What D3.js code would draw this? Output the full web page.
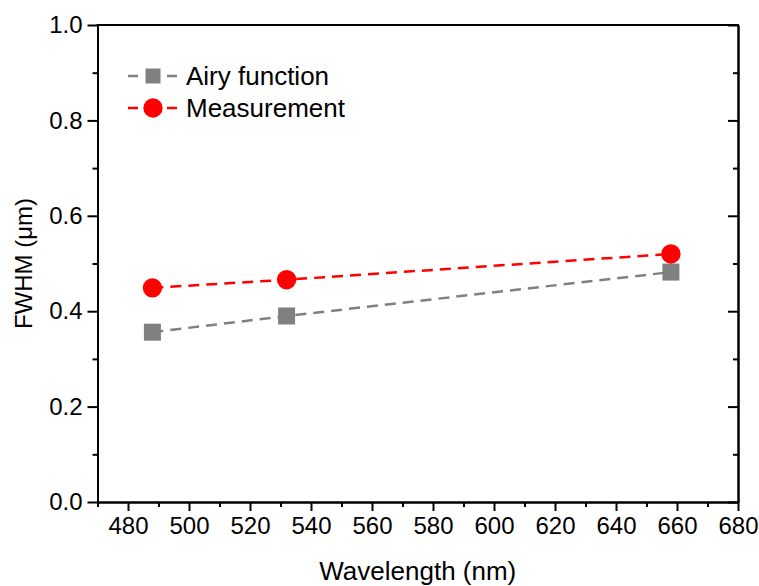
<!DOCTYPE html>
<html>
<head>
<meta charset="utf-8">
<script src="https://cdn.jsdelivr.net/npm/d3@7"></script>
<style>
  body { margin: 0; background: #fff; }
  svg { display: block; font-family: "Liberation Sans", Arial, sans-serif; }
</style>
</head>
<body>
<svg id="chart" width="759" height="586"></svg>
<script>
// values
var wavelengths = [488, 532, 658];
var airyFwhm = [0.356, 0.390, 0.482];
var measuredFwhm = [0.449, 0.466, 0.520];
var xTicks = [480, 500, 520, 540, 560, 580, 600, 620, 640, 660, 680];
var xMinor = [470, 490, 510, 530, 550, 570, 590, 610, 630, 650, 670];
var yTicks = [0, 0.2, 0.4, 0.6, 0.8, 1.0];
var yMinor = [0.1, 0.3, 0.5, 0.7, 0.9];
var seriesNames = ["Airy function", "Measurement"];

var svg = d3.select("#chart");
var plotL = 97.5, plotR = 738, plotT = 25, plotB = 502;

var x = d3.scaleLinear().domain([470, 680]).range([plotL, plotR]);
var y = d3.scaleLinear().domain([0, 1]).range([plotB, plotT]);

function styleAxis(g){
    g.selectAll("path.domain").attr("stroke", "#000").attr("stroke-width", 2);
    g.selectAll(".tick line").attr("stroke", "#000").attr("stroke-width", 2);
    g.selectAll(".tick text").attr("fill", "#000").style("font-size", "24px");
}

// bottom axis
svg.append("g").attr("transform", "translate(0," + plotB + ")")
    .call(d3.axisBottom(x).tickValues(xTicks).tickSize(9).tickPadding(6).tickFormat(d3.format("d")).tickSizeOuter(0))
    .call(styleAxis);
svg.append("g").attr("transform", "translate(0," + plotB + ")")
    .call(d3.axisBottom(x).tickValues(xMinor).tickSize(5).tickFormat("").tickSizeOuter(0))
    .call(styleAxis);

// left axis
svg.append("g").attr("transform", "translate(" + plotL + ",0)")
    .call(d3.axisLeft(y).tickValues(yTicks).tickSize(10).tickPadding(5).tickFormat(d3.format(".1f")).tickSizeOuter(0))
    .call(styleAxis);
svg.append("g").attr("transform", "translate(" + plotL + ",0)")
    .call(d3.axisLeft(y).tickValues(yMinor).tickSize(5).tickFormat("").tickSizeOuter(0))
    .call(styleAxis);

// right axis, ticks pointing inward
svg.append("g").attr("transform", "translate(" + plotR + ",0)")
    .call(d3.axisRight(y).tickValues(yTicks).tickSize(-10).tickFormat("").tickSizeOuter(0))
    .call(styleAxis);
svg.append("g").attr("transform", "translate(" + plotR + ",0)")
    .call(d3.axisRight(y).tickValues(yMinor).tickSize(-5).tickFormat("").tickSizeOuter(0))
    .call(styleAxis);

// top frame line
svg.append("line")
    .attr("x1", plotL - 1).attr("x2", plotR + 1)
    .attr("y1", plotT).attr("y2", plotT)
    .attr("stroke", "#000").attr("stroke-width", 2);

// titles
svg.append("text")
    .attr("x", (plotL + plotR) / 2).attr("y", 580)
    .attr("text-anchor", "middle")
    .style("font-size", "26px")
    .text("Wavelength (nm)");

svg.append("text")
    .attr("transform", "translate(32," + ((plotT + plotB) / 2) + ") rotate(-90)")
    .attr("text-anchor", "middle")
    .style("font-size", "24px")
    .text("FWHM (\u03bcm)");

// series
var line = d3.line()
    .x(function(d){ return x(d[0]); })
    .y(function(d){ return y(d[1]); });

var airyPts = wavelengths.map(function(w, i){ return [w, airyFwhm[i]]; });
var measPts = wavelengths.map(function(w, i){ return [w, measuredFwhm[i]]; });

svg.append("path").datum(airyPts)
    .attr("d", line).attr("fill", "none")
    .attr("stroke", "#808080").attr("stroke-width", 2.5)
    .attr("stroke-dasharray", "11,7");
svg.append("path").datum(measPts)
    .attr("d", line).attr("fill", "none")
    .attr("stroke", "#ff0000").attr("stroke-width", 2.5)
    .attr("stroke-dasharray", "11,7");

svg.selectAll("rect.airy").data(airyPts).enter()
    .append("rect").attr("class", "airy")
    .attr("x", function(d){ return x(d[0]) - 8.5; })
    .attr("y", function(d){ return y(d[1]) - 8.5; })
    .attr("width", 17).attr("height", 17)
    .attr("fill", "#808080");

svg.selectAll("circle.meas").data(measPts).enter()
    .append("circle").attr("class", "meas")
    .attr("cx", function(d){ return x(d[0]); })
    .attr("cy", function(d){ return y(d[1]); })
    .attr("r", 9.7)
    .attr("fill", "#ff0000");

// legend
var legend = svg.append("g");
var legendRows = [
    {name: seriesNames[0], color: "#808080", shape: "square", y: 76},
    {name: seriesNames[1], color: "#ff0000", shape: "circle", y: 108}
];
legendRows.forEach(function(r){
    legend.append("line")
        .attr("x1", 128).attr("x2", 178)
        .attr("y1", r.y).attr("y2", r.y)
        .attr("stroke", r.color).attr("stroke-width", 2.5)
        .attr("stroke-dasharray", "10,29");
    if(r.shape == "square"){
        legend.append("rect")
            .attr("x", 153 - 7.5).attr("y", r.y - 7.5)
            .attr("width", 15).attr("height", 15)
            .attr("fill", r.color);
    }else{
        legend.append("circle")
            .attr("cx", 153).attr("cy", r.y).attr("r", 9.7)
            .attr("fill", r.color);
    }
    legend.append("text")
        .attr("x", 186).attr("y", r.y + 8.5)
        .style("font-size", "26px")
        .text(r.name);
});
</script>
</body>
</html>
